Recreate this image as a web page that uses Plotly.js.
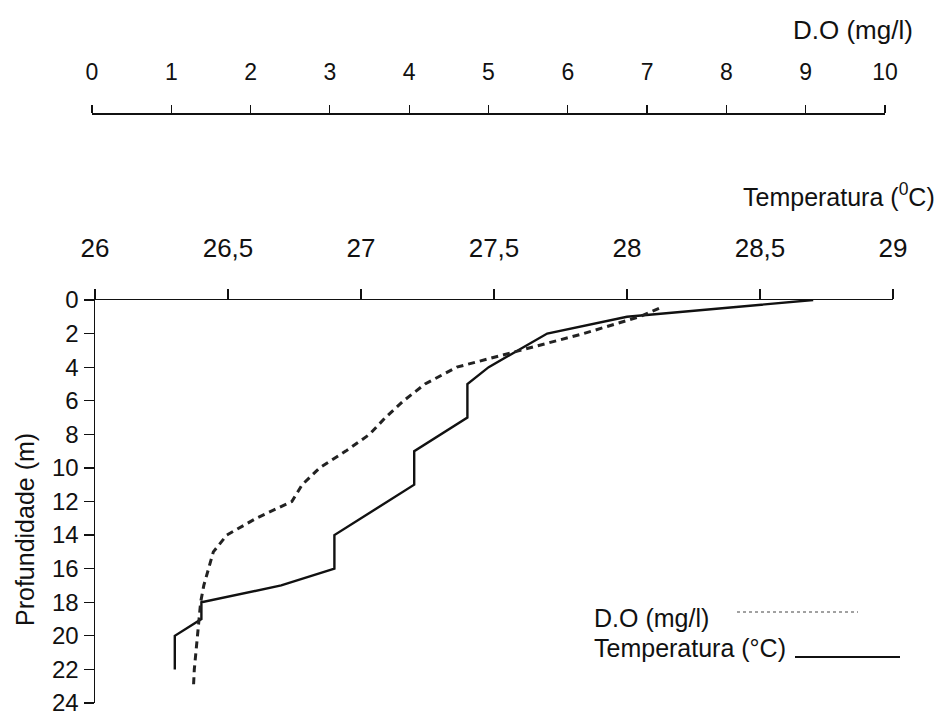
<!DOCTYPE html>
<html>
<head>
<meta charset="utf-8">
<script src="https://cdn.plot.ly/plotly-3.0.1.min.js"></script>
<style>
  html, body { margin: 0; padding: 0; background: #fff; }
  #chart { width: 938px; height: 718px; }
</style>
</head>
<body>
<div id="chart"></div>
<script>
// ---- Data ----
// Temperature profile (°C) vs depth (m)
const tempDepth = [0, 1, 2, 4, 5, 7, 9, 11, 14, 16, 17, 18, 19, 20, 22];
const tempValues = [28.70, 28.00, 27.70, 27.48, 27.40, 27.40, 27.20, 27.20, 26.90, 26.90, 26.70, 26.40, 26.40, 26.30, 26.30];

// Dissolved oxygen profile (mg/l) vs depth (m)
const doDepth = [0.5, 1, 2, 3, 4, 5, 6, 7, 8, 9, 10, 11, 12, 13, 14, 15, 16, 17, 18, 19, 20, 21, 22, 23];
const doValues = [7.15, 6.9, 6.2, 5.4, 4.6, 4.2, 3.93, 3.7, 3.5, 3.2, 2.87, 2.65, 2.52, 2.07, 1.70, 1.53, 1.47, 1.41, 1.37, 1.35, 1.33, 1.31, 1.29, 1.28];

// Tick labels
const tempTickVals = [26, 26.5, 27, 27.5, 28, 28.5, 29];
const tempTickText = ['26', '26,5', '27', '27,5', '28', '28,5', '29'];
const doTickVals = [0, 1, 2, 3, 4, 5, 6, 7, 8, 9, 10];
const doTickText = ['0', '1', '2', '3', '4', '5', '6', '7', '8', '9', '10'];
const depthTickVals = [0, 2, 4, 6, 8, 10, 12, 14, 16, 18, 20, 22, 24];

// Text
const doTitle = 'D.O (mg/l)';
const tempTitle = 'Temperatura (<sup>0</sup>C)';
const depthTitle = 'Profundidade (m)';
const legendDO = 'D.O (mg/l)';
const legendTemp = 'Temperatura (°C)';

// ---- Layout helpers (pixel -> paper) ----
const M = { l: 90, r: 40, t: 113, b: 15 };
const W = 938, H = 718;
const PW = W - M.l - M.r, PH = H - M.t - M.b;
const px = v => (v - M.l) / PW;
const py = v => (H - M.b - v) / PH;

const FONT = 'Liberation Sans, Arial, sans-serif';

const traces = [
  {
    x: tempValues, y: tempDepth, xaxis: 'x', yaxis: 'y',
    type: 'scatter', mode: 'lines', name: 'Temperatura',
    line: { color: '#111', width: 2.4 }, hoverinfo: 'skip'
  },
  {
    x: doValues, y: doDepth, xaxis: 'x2', yaxis: 'y',
    type: 'scatter', mode: 'lines', name: 'D.O',
    line: { color: '#222', width: 3, dash: '7px,5px' }, hoverinfo: 'skip'
  }
];

const layout = {
  width: W, height: H,
  margin: M,
  paper_bgcolor: '#fff', plot_bgcolor: 'rgba(0,0,0,0)',
  showlegend: false,
  hovermode: false,
  font: { family: FONT, color: '#111' },
  xaxis: {
    domain: [px(95), px(893)],
    range: [26, 29],
    side: 'top', anchor: 'y',
    tickvals: tempTickVals, ticktext: tempTickText,
    ticks: 'outside', ticklen: 10, tickwidth: 1.2, tickcolor: '#111',
    showline: true, linecolor: '#111', linewidth: 1.5,
    showgrid: false, zeroline: false,
    tickfont: { family: FONT, size: 26, color: '#111' },
    ticklabelstandoff: 21
  },
  xaxis2: {
    domain: [px(92), px(885)],
    range: [0, 10],
    side: 'top', anchor: 'free', position: 1,
    tickvals: doTickVals, ticktext: doTickText,
    ticks: 'outside', ticklen: 8, tickwidth: 1.2, tickcolor: '#111',
    showline: true, linecolor: '#111', linewidth: 1.5,
    showgrid: false, zeroline: false,
    tickfont: { family: FONT, size: 23, color: '#111' },
    ticklabelstandoff: 16
  },
  yaxis: {
    domain: [0, py(300)],
    range: [24, 0],
    anchor: 'x',
    tickvals: depthTickVals,
    ticks: 'outside', ticklen: 10, tickwidth: 1.2, tickcolor: '#111',
    showline: true, linecolor: '#111', linewidth: 1.5,
    showgrid: false, zeroline: false,
    tickfont: { family: FONT, size: 24, color: '#111' },
    ticklabelstandoff: 0
  },
  annotations: [
    { text: doTitle, xref: 'paper', yref: 'paper', x: px(915), y: py(30),
      xanchor: 'right', yanchor: 'middle', showarrow: false,
      font: { family: FONT, size: 26, color: '#111' } },
    { text: tempTitle, xref: 'paper', yref: 'paper', x: px(937), y: py(195),
      xanchor: 'right', yanchor: 'middle', showarrow: false,
      font: { family: FONT, size: 25, color: '#111' } },
    { text: depthTitle, xref: 'paper', yref: 'paper', x: px(25), y: py(530),
      xanchor: 'center', yanchor: 'middle', showarrow: false, textangle: -90,
      font: { family: FONT, size: 25, color: '#111' } },
    { text: legendDO, xref: 'paper', yref: 'paper', x: px(592), y: py(618),
      xanchor: 'left', yanchor: 'middle', showarrow: false,
      font: { family: FONT, size: 25, color: '#111' } },
    { text: legendTemp, xref: 'paper', yref: 'paper', x: px(592), y: py(648),
      xanchor: 'left', yanchor: 'middle', showarrow: false,
      font: { family: FONT, size: 25, color: '#111' } }
  ],
  shapes: [
    { type: 'line', xref: 'paper', yref: 'paper',
      x0: px(737), x1: px(858), y0: py(612), y1: py(612),
      line: { color: '#444', width: 1, dash: 'dot' } },
    { type: 'line', xref: 'paper', yref: 'paper',
      x0: px(795), x1: px(900), y0: py(657), y1: py(657),
      line: { color: '#111', width: 2 } }
  ]
};

Plotly.newPlot('chart', traces, layout, { displayModeBar: false, staticPlot: true });
</script>
</body>
</html>
